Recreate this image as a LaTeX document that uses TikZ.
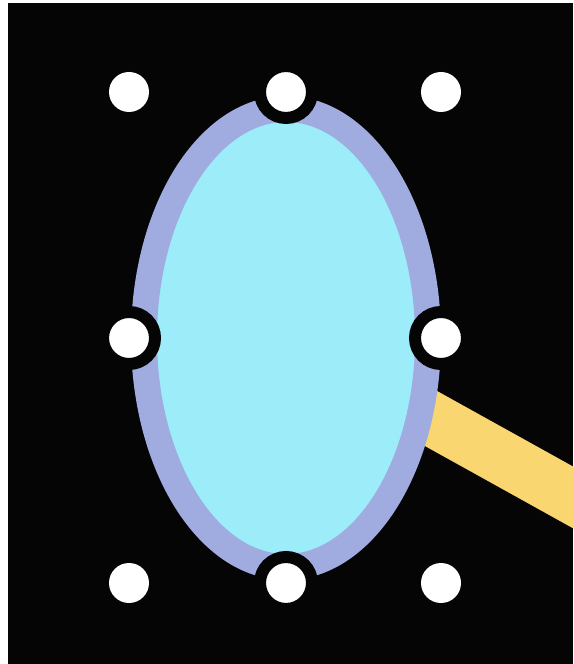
\documentclass[tikz,border=0pt]{standalone}
\usepackage{xcolor}
\usepackage{tikz}
\usetikzlibrary{shapes.geometric, positioning, backgrounds, calc}

\definecolor{lavend}{RGB}{160,172,224}
\definecolor{skycyan}{RGB}{156,236,250}
\definecolor{barsand}{RGB}{249,214,112}
\definecolor{nearblack}{RGB}{5,5,5}

\begin{document}
\begin{tikzpicture}[x=1pt, y=1pt,
  shapeoval/.style={ellipse,draw=lavend,fill=skycyan,line width=26pt,minimum width=284pt,minimum height=458pt,inner sep=0pt,outer sep=0pt},
  handle/.style={circle,fill=white,minimum size=40pt,inner sep=0pt},
  anchorhandle/.style={circle,fill=white,draw=nearblack,line width=12pt,minimum size=52pt,inner sep=0pt}]
  \useasboundingbox (0,0) rectangle (573,664);
  \clip (0,0) rectangle (573,664);
  \node[shapeoval] (e) at (286,326) {};
  % resize handles
  \node[handle] (nw) at (129,572) {};
  \node[anchorhandle] (n) at (286,572) {};
  \node[handle] (ne) at (441,572) {};
  \node[anchorhandle] (w) at (129,326) {};
  \node[anchorhandle] (east) at (441,326) {};
  \node[handle] (sw) at (129,81) {};
  \node[anchorhandle] (s) at (286,81) {};
  \node[handle] (se) at (441,81) {};
  \coordinate (out) at (720,85);
  \begin{scope}[on background layer]
    \fill[nearblack] (8,0) rectangle (573,661);
    \draw[barsand, line width=54pt] (e.center) -- (out);
  \end{scope}
\end{tikzpicture}
\end{document}
